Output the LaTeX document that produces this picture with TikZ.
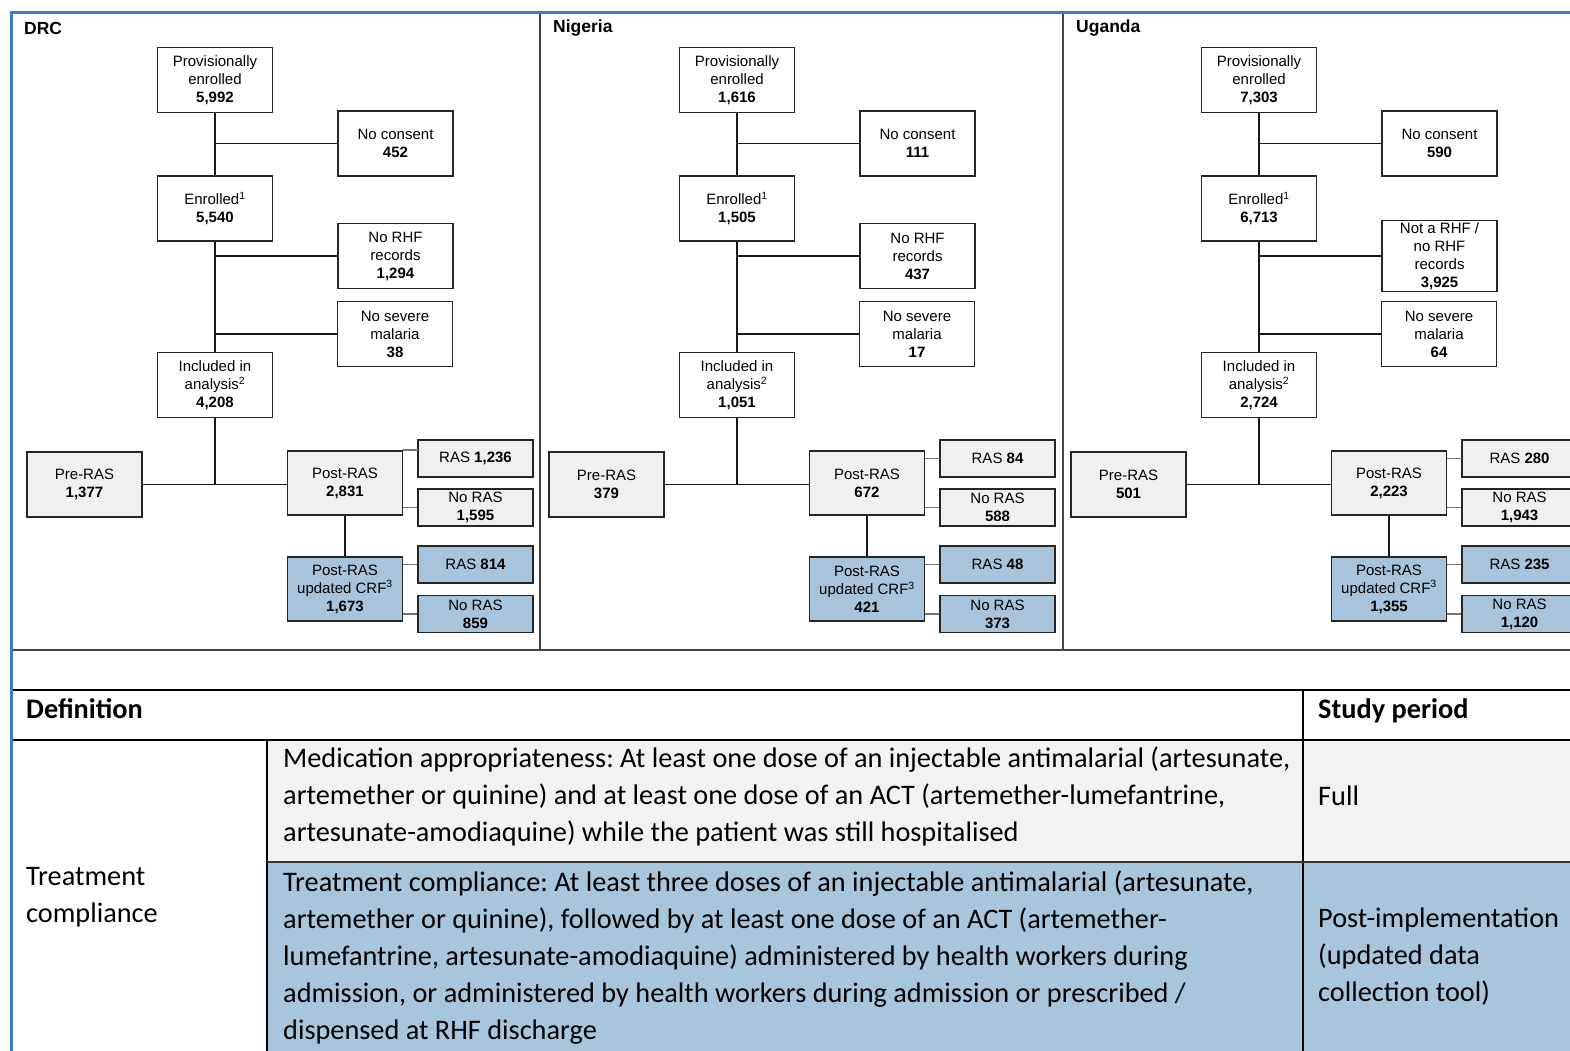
\documentclass[tikz,border=0pt]{standalone}
\usepackage{fontspec}
\setmainfont{Liberation Sans}
\newfontfamily\tabfont{Carlito}
\definecolor{bord}{HTML}{3B7DC4}
\definecolor{boxgray}{HTML}{F0F0F0}
\definecolor{boxblue}{HTML}{A7C4DA}
\definecolor{rowgray}{HTML}{F2F2F2}
\definecolor{rowblue}{HTML}{A8C6DB}
\definecolor{darkline}{HTML}{444444}
\tikzset{
 fbox/.style={draw=black!85, line width=1.6pt, align=center, minimum width=115pt, minimum height=65pt, inner sep=2pt, font=\fontsize{15}{18}\selectfont},
 gbox/.style={fbox, fill=boxgray},
 bbox/.style={fbox, fill=boxblue},
 sbox/.style={minimum height=37pt},
 conn/.style={line width=1.8pt, black!90},
 sconn/.style={line width=1.4pt, black!55},
 ptitle/.style={font=\fontsize{17.5}{20}\selectfont\bfseries, anchor=west, inner sep=0},
 tline/.style={anchor=base west, inner sep=0, font=\tabfont\frenchspacing\fontsize{28.3}{34}\selectfont},
 thead/.style={anchor=base west, inner sep=0, font=\tabfont\bfseries\fontsize{28.3}{34}\selectfont},
}
\newcommand\flowpanel[2]{%
\begin{scope}[xshift=#2pt]
 \node[fbox] (#1prov) at (215,80) {Provisionally\\enrolled\\\textbf{\vProv}};
 \node[fbox] (#1nocons) at (395.5,143.5) {No consent\\\textbf{\vNoCons}};
 \node[fbox] (#1enr) at (215,208.5) {Enrolled\textsuperscript{1}\\\textbf{\vEnr}};
 \node[fbox] (#1norhf) at (395.5,256) {\vRHFtext\\\textbf{\vNoRHF}};
 \node[fbox] (#1nosev) at (395,334) {No severe\\malaria\\\textbf{\vNoSev}};
 \node[fbox] (#1incl) at (215,385) {Included in\\analysis\textsuperscript{2}\\\textbf{\vIncl}};
 \node[gbox] (#1pre) at (84.5,484.5) {Pre-RAS\\\textbf{\vPre}};
 \node[gbox, minimum height=64pt] (#1post) at (345,483) {Post-RAS\\\textbf{\vPost}};
 \node[gbox, sbox] (#1rasa) at (475.5,458.5) {RAS \textbf{\vRasA}};
 \node[gbox, sbox] (#1norasa) at (475.5,507.5) {No RAS\\\textbf{\vNoRasA}};
 \node[bbox, minimum height=64pt] (#1postu) at (345,589) {Post-RAS\\updated CRF\textsuperscript{3}\\\textbf{\vPostU}};
 \node[bbox, sbox] (#1rasb) at (475.5,564.5) {RAS \textbf{\vRasB}};
 \node[bbox, sbox] (#1norasb) at (475.5,614) {No RAS\\\textbf{\vNoRasB}};
 \coordinate (#1junc) at (215,484);
 \coordinate (#1rj) at (418,\vRasY);
 \draw[conn] (#1prov) -- (#1enr);
 \draw[conn] (#1enr) -- (#1incl);
 \draw[conn] (#1incl) -- (#1junc);
 \draw[conn] (#1prov.south |- #1nocons.west) -- (#1nocons.west);
 \draw[conn] (#1enr.south |- #1norhf.west) -- (#1norhf.west);
 \draw[conn] (#1enr.south |- #1nosev.west) -- (#1nosev.west);
 \draw[conn] (#1pre.east) -- (#1post.west |- #1pre.east);
 \draw[conn] (#1post) -- (#1postu);
 \draw[sconn] (#1post.east |- #1rj) -- (#1rj);
 \draw[sconn] (#1post.east |- #1norasa.west) -- (#1norasa.west);
 \draw[sconn] (#1postu.east |- #1rasb.west) -- (#1rasb.west);
 \draw[sconn] (#1postu.east |- #1norasb.west) -- (#1norasb.west);
\end{scope}}
\begin{document}
\begin{tikzpicture}[x=1pt,y=-1pt]
\useasboundingbox (0,0) rectangle (1570,1050);
\clip (0,0) rectangle (1570,1050);
\fill[white] (0,0) rectangle (1570,1050);
% table fills
\fill[rowgray] (267,740) rectangle (1600,862);
\fill[rowblue] (267,862) rectangle (1600,1060);
% frame lines
\draw[darkline, line width=2pt] (540,14) -- (540,650);
\draw[darkline, line width=2pt] (1063,14) -- (1063,650);
\draw[darkline, line width=2.5pt] (12,650) -- (1600,650);
\draw[black, line width=2.8pt] (12,690) -- (1600,690);
\draw[black, line width=2pt] (12,740) -- (1600,740);
\draw[black, line width=2pt] (1303,690) -- (1303,1060);
\draw[black, line width=2pt] (267,740) -- (267,1060);
\draw[black!80, line width=2pt] (267,862) -- (1600,862);
\draw[bord, line width=3pt] (11.5,1060) -- (11.5,12.5) -- (1600,12.5);
% panel titles
\node[ptitle] (tdrc) at (24,28) {DRC};
\node[ptitle] (tnga) at (553,28) {Nigeria};
\node[ptitle] (tuga) at (1076,28) {Uganda};
% DRC
\def\vProv{5,992}\def\vNoCons{452}\def\vEnr{5,540}\def\vRHFtext{No RHF\\records}\def\vNoRHF{1,294}
\def\vNoSev{38}\def\vIncl{4,208}\def\vPre{1,377}\def\vPost{2,831}\def\vRasA{1,236}\def\vNoRasA{1,595}
\def\vPostU{1,673}\def\vRasB{814}\def\vNoRasB{859}\def\vRasY{450}
\flowpanel{d}{0}
% Nigeria
\def\vProv{1,616}\def\vNoCons{111}\def\vEnr{1,505}\def\vRHFtext{No RHF\\records}\def\vNoRHF{437}
\def\vNoSev{17}\def\vIncl{1,051}\def\vPre{379}\def\vPost{672}\def\vRasA{84}\def\vNoRasA{588}
\def\vPostU{421}\def\vRasB{48}\def\vNoRasB{373}\def\vRasY{458.5}
\flowpanel{n}{522}
% Uganda
\def\vProv{7,303}\def\vNoCons{590}\def\vEnr{6,713}\def\vRHFtext{Not a RHF /\\no RHF\\records}\def\vNoRHF{3,925}
\def\vNoSev{64}\def\vIncl{2,724}\def\vPre{501}\def\vPost{2,223}\def\vRasA{280}\def\vNoRasA{1,943}
\def\vPostU{1,355}\def\vRasB{235}\def\vNoRasB{1,120}\def\vRasY{458.5}
\flowpanel{u}{1044}
% table text
\node[thead] (hdef) at (26,718) {Definition};
\node[thead] (hper) at (1318,718) {Study period};
\node[tline] (tc1) at (26,885) {Treatment};
\node[tline] (tc2) at (26,922) {compliance};
\foreach [count=\i] \l in {{Medication appropriateness: At least one dose of an injectable antimalarial (artesunate,},{artemether or quinine) and at least one dose of an ACT (artemether-lumefantrine,},{artesunate-amodiaquine) while the patient was still hospitalised}}
  \node[tline] (ra\i) at (283,{767+37*(\i-1)}) {\l};
\foreach [count=\i] \l in {{Treatment compliance: At least three doses of an injectable antimalarial (artesunate,},{artemether or quinine), followed by at least one dose of an ACT (artemether-},{lumefantrine, artesunate-amodiaquine) administered by health workers during},{admission, or administered by health workers during admission or prescribed /},{dispensed at RHF discharge}}
  \node[tline] (rb\i) at (283,{891+37*(\i-1)}) {\l};
\node[tline] (pfull) at (1318,805) {Full};
\node[tline] (pp1) at (1318,927) {Post-implementation};
\node[tline] (pp2) at (1318,964) {(updated data};
\node[tline] (pp3) at (1318,1001) {collection tool)};
\end{tikzpicture}
\end{document}
